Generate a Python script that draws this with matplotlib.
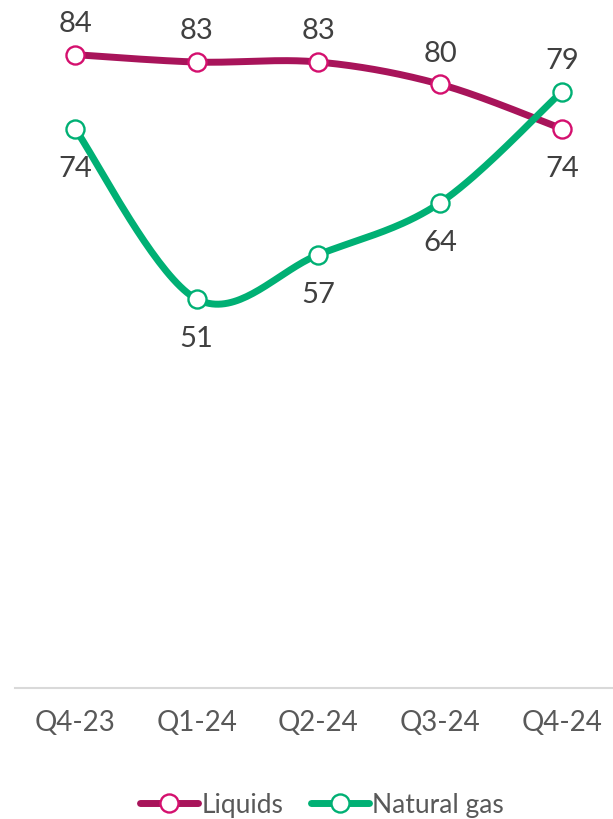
import numpy as np
import matplotlib
matplotlib.use('Agg')
import matplotlib.pyplot as plt

plt.rcParams['font.family'] = ['Lato', 'DejaVu Sans']

# data
quarters = ['Q4-23', 'Q1-24', 'Q2-24', 'Q3-24', 'Q4-24']
liquids = [84, 83, 83, 80, 74]
natural_gas = [74, 51, 57, 64, 79]
# label placement: +1 above the point, -1 below
liquids_pos = [1, 1, 1, 1, -1]
gas_pos = [-1, -1, -1, -1, 1]

LIQ_LINE = '#A8145A'
LIQ_EDGE = '#D4106E'
GAS_LINE = '#00B074'
GAS_EDGE = '#00B074'
TXT = '#404040'


def smooth(xs, ys, n=40, t=1.0 / 6):
    # excel style smoothing: cubic bezier built from catmull-rom tangents
    xs = np.asarray(xs, float)
    ys = np.asarray(ys, float)
    px = np.concatenate([[xs[0]], xs, [xs[-1]]])
    py = np.concatenate([[ys[0]], ys, [ys[-1]]])
    out_x, out_y = [], []
    s = np.linspace(0, 1, n)
    for i in range(len(xs) - 1):
        p0 = np.array([px[i + 1], py[i + 1]])
        p3 = np.array([px[i + 2], py[i + 2]])
        p1 = p0 + t * (p3 - np.array([px[i], py[i]]))
        p2 = p3 - t * (np.array([px[i + 3], py[i + 3]]) - p0)
        b = ((1 - s) ** 3)[:, None] * p0 + (3 * (1 - s) ** 2 * s)[:, None] * p1 \
            + (3 * (1 - s) * s ** 2)[:, None] * p2 + (s ** 3)[:, None] * p3
        out_x.extend(b[:, 0])
        out_y.extend(b[:, 1])
    return np.array(out_x), np.array(out_y)


fig = plt.figure(figsize=(6.13, 8.19), dpi=100)
ax = fig.add_axes([15 / 613, 131 / 819, 598 / 613, 663 / 819])

x = np.arange(len(quarters))
for vals, pos, lc, ec, name in [(liquids, liquids_pos, LIQ_LINE, LIQ_EDGE, 'Liquids'),
                                (natural_gas, gas_pos, GAS_LINE, GAS_EDGE, 'Natural gas')]:
    sx, sy = smooth(x, vals)
    ax.plot(sx, sy, color=lc, lw=5, solid_capstyle='round', zorder=2)
    ax.plot(x, vals, ls='none', marker='o', ms=13, mfc='white', mec=ec, mew=1.7, zorder=3)
    # legend proxy
    ax.plot([], [], color=lc, lw=5, marker='o', ms=13, mfc='white', mec=ec, mew=1.7,
            solid_capstyle='round', label=name)
    for xi, v, p in zip(x, vals, pos):
        off = 22 if p > 0 else -29
        ax.annotate(str(v), (xi, v), xytext=(0, off), textcoords='offset points',
                    ha='center', va='center', fontsize=21, color=TXT)

ax.set_xlim(-0.493, 4.42)
ax.set_ylim(-1.5, 88)
ax.set_yticks([])
ax.set_xticks(x)
ax.set_xticklabels(quarters, fontsize=20, color='#595959')
ax.tick_params(axis='x', length=0, pad=16)
for s in ['top', 'right', 'left']:
    ax.spines[s].set_visible(False)
ax.spines['bottom'].set_color('#D9D9D9')
ax.spines['bottom'].set_linewidth(1.5)

fig.legend(loc='center', bbox_to_anchor=(322 / 613, 14 / 819), ncol=2, frameon=False,
           fontsize=19, handlelength=2.2, handletextpad=0.12, columnspacing=1.05,
           labelcolor='#595959')

fig.savefig('out.png', dpi=100)
